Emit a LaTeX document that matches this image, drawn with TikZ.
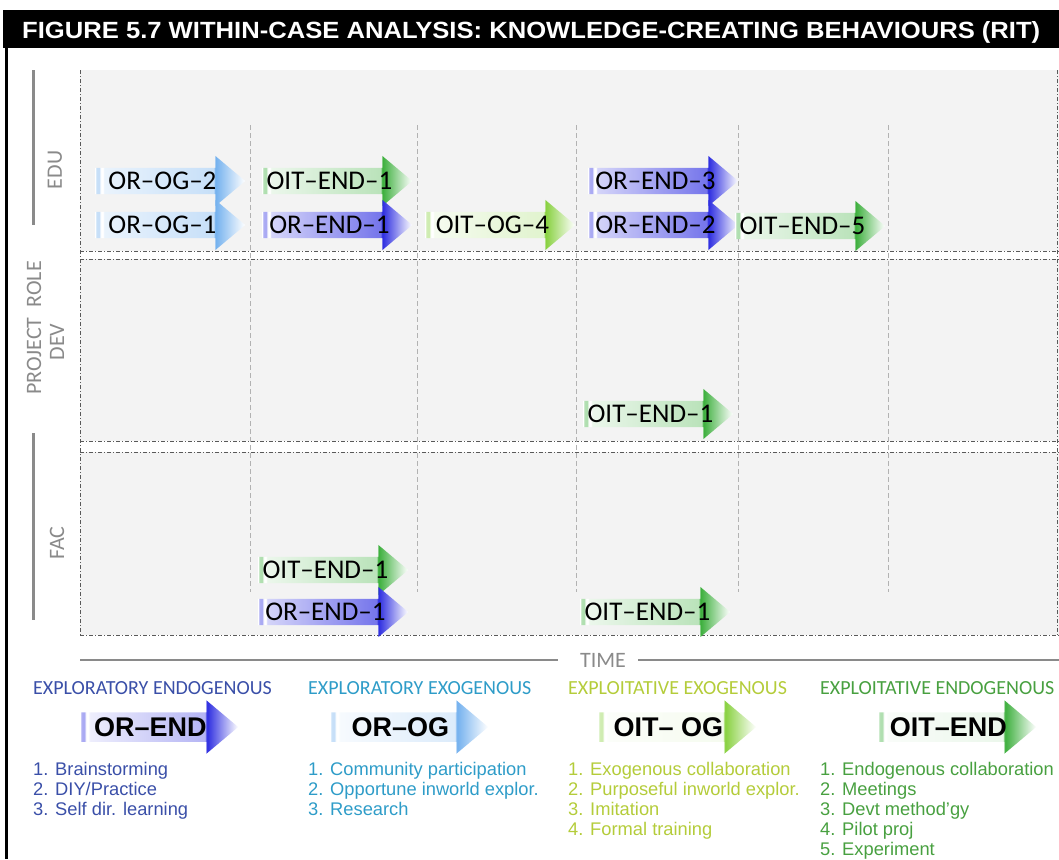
\documentclass[tikz,border=0pt]{standalone}
\usepackage{fontspec}
\setmainfont{Liberation Sans}
\newfontfamily\calfont{Carlito}
\usepackage{graphicx}
\usetikzlibrary{shapes.arrows}
\definecolor{orendblue}{HTML}{2B2BE0}
\definecolor{orogblue}{HTML}{72B0EE}
\definecolor{oitendgreen}{HTML}{3AAE3A}
\definecolor{oitoggreen}{HTML}{86D03C}
\definecolor{orendtxt}{HTML}{3A4FA8}
\definecolor{orogtxt}{HTML}{2E9CC8}
\definecolor{oitogtxt}{HTML}{B4CC3A}
\definecolor{oitendtxt}{HTML}{48A040}
\definecolor{panelgray}{HTML}{F3F3F3}
\definecolor{axisgray}{HTML}{8A8A8A}
\newcommand\kcbshade[4]{%
  \pgfdeclarehorizontalshading{#1}{100bp}{color(0bp)=(white); color(25bp)=(white);
    color(25.4bp)=(#2!40); color(26.4bp)=(#2!40); color(26.8bp)=(white); color(27.6bp)=(white);
    color(28bp)=(#2!#3); color(64.5bp)=(#2!#4); color(65bp)=(#2); color(75bp)=(white); color(100bp)=(white)}}
\kcbshade{shOREND}{orendblue}{20}{65}
\kcbshade{shOROG}{orogblue}{15}{40}
\kcbshade{shOITEND}{oitendgreen}{10}{35}
\kcbshade{shOITOG}{oitoggreen}{8}{25}
\kcbshade{keyOREND}{orendblue}{8}{35}
\kcbshade{keyOROG}{orogblue}{6}{25}
\kcbshade{keyOITEND}{oitendgreen}{3}{10}
\kcbshade{keyOITOG}{oitoggreen}{3}{8}
\tikzset{
  kcb/.style={single arrow, shade, shading=#1, anchor=tail, minimum height=150pt,
    single arrow head extend=12pt, single arrow tip angle=80, inner xsep=2pt, inner ysep=4pt,
    font=\calfont\fontsize{27}{27}\selectfont, text=black},
  keyarrow/.style={kcb=#1, minimum height=158pt, inner ysep=5pt,
    font=\fontsize{27}{27}\selectfont\bfseries},
  axislbl/.style={font=\calfont\fontsize{22}{22}\selectfont, text=axisgray, inner sep=0pt},
  keyhead/.style={font=\calfont\fontsize{20}{20}\selectfont, anchor=west, inner sep=0pt},
  keylist/.style={font=\fontsize{18.3}{20}\selectfont, anchor=north west, align=left, inner sep=0pt},
  rowline/.style={draw=black!65, line width=0.8pt, dash pattern=on 4pt off 2pt on 1pt off 2pt},
  colline/.style={draw=black!30, line width=0.8pt, dash pattern=on 5pt off 3pt}
}
\begin{document}
\begin{tikzpicture}[x=1pt,y=-1pt]
\useasboundingbox (0,0) rectangle (1059,859);
\fill[black] (3,10) rectangle (1059,48);
\node[anchor=base west, inner sep=0pt, text=white] (title) at (22,38)
  {\resizebox{1018pt}{17pt}{\bfseries FIGURE 5.7 WITHIN-CASE ANALYSIS: KNOWLEDGE-CREATING BEHAVIOURS (RIT)}};
\draw[line width=3pt] (6,48) -- (6,859);

\fill[panelgray] (80,70) rectangle (1059,251);
\fill[panelgray] (80,259) rectangle (1059,441);
\fill[panelgray] (80,452) rectangle (1059,635);
\foreach \y in {251,259,441,452,635} \draw[rowline] (80,\y) -- (1059,\y);
\draw[rowline] (80,70) -- (80,635);
\draw[rowline] (1057,70) -- (1057,635);
\foreach \x in {250,417,576,738,888} \draw[colline] (\x,125) -- (\x,592);

\draw[axisgray, line width=3pt] (33,70) -- (33,225);
\draw[axisgray, line width=3pt] (33,433) -- (33,620);
\node[axislbl, rotate=90] (edu) at (55,170) {EDU};
\node[axislbl, rotate=90] (role) at (34,328) {PROJECT\ \ ROLE};
\node[axislbl, rotate=90] (dev) at (57,342) {DEV};
\node[axislbl, rotate=90] (fac) at (57,543) {FAC};
\node[axislbl] (time) at (603,660) {TIME};
\draw[axisgray, line width=1.5pt] (80,660) -- ([xshift=-22pt]time.west);
\draw[axisgray, line width=1.5pt] ([xshift=12pt]time.east) -- (1059,660);

\node[kcb=shOROG] (og2) at (95,181) {OR–OG–2};
\node[kcb=shOITEND] (ie1a) at (262,181) {OIT–END–1};
\node[kcb=shOREND] (e3) at (588,181) {OR–END–3};
\node[kcb=shOROG] (og1) at (95,225) {OR–OG–1};
\node[kcb=shOREND] (e1a) at (262,225) {OR–END–1};
\node[kcb=shOITOG] (iog4) at (425,225) {OIT–OG–4};
\node[kcb=shOREND] (e2) at (588,225) {OR–END–2};
\node[kcb=shOITEND] (ie5) at (735,226) {OIT–END–5};
\node[kcb=shOITEND] (ie1b) at (583,414) {OIT–END–1};
\node[kcb=shOITEND] (ie1c) at (258,570) {OIT–END–1};
\node[kcb=shOREND] (e1b) at (258,612) {OR–END–1};
\node[kcb=shOITEND] (ie1d) at (580,612) {OIT–END–1};

\node[keyhead, text=orendtxt] (h1) at (33,688) {EXPLORATORY ENDOGENOUS};
\node[keyhead, text=orogtxt] (h2) at (308,688) {EXPLORATORY EXOGENOUS};
\node[keyhead, text=oitogtxt] (h3) at (568,688) {EXPLOITATIVE EXOGENOUS};
\node[keyhead, text=oitendtxt] (h4) at (820,688) {EXPLOITATIVE ENDOGENOUS};
\node[keyarrow=keyOREND] (k1) at (80,727) {OR–END};
\node[keyarrow=keyOROG] (k2) at (330,727) {OR–OG};
\node[keyarrow=keyOITOG] (k3) at (598,727) {OIT– OG};
\node[keyarrow=keyOITEND] (k4) at (878,727) {OIT–END};
\node[keylist, text=orendtxt] (l1) at (33,762) {1. Brainstorming\\2. DIY/Practice\\3. Self dir. learning};
\node[keylist, text=orogtxt] (l2) at (308,762) {1. Community participation\\2. Opportune inworld explor.\\3. Research};
\node[keylist, text=oitogtxt] (l3) at (568,762) {1. Exogenous collaboration\\2. Purposeful inworld explor.\\3. Imitation\\4. Formal training};
\node[keylist, text=oitendtxt] (l4) at (820,762) {1. Endogenous collaboration\\2. Meetings\\3. Devt method'gy\\4. Pilot proj\\5. Experiment};
\end{tikzpicture}
\end{document}
